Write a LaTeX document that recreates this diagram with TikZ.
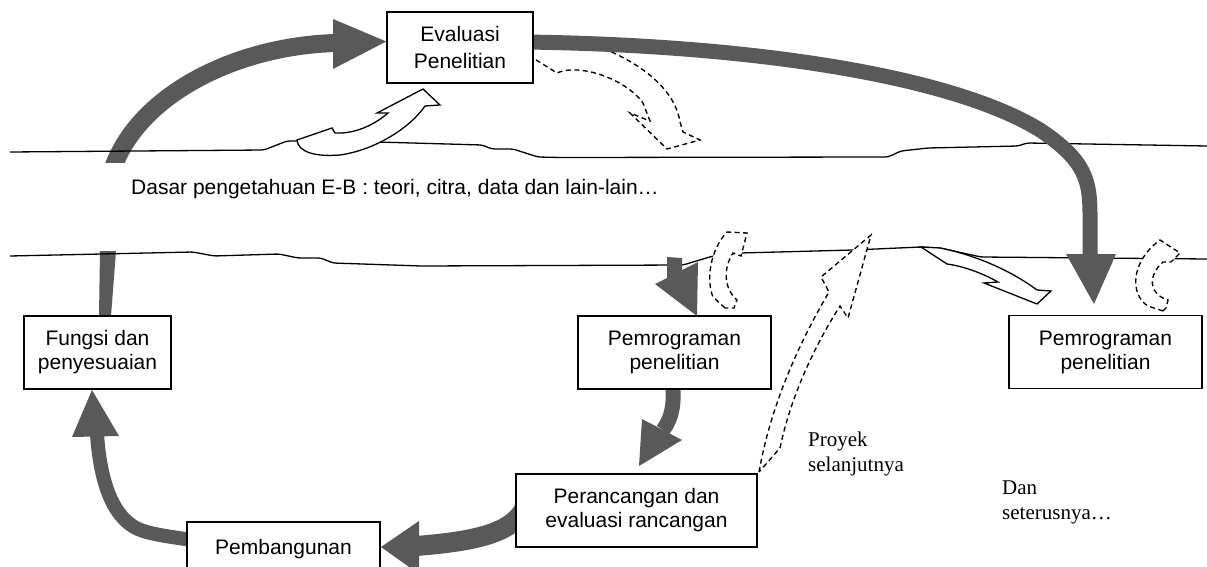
\documentclass[tikz,border=0pt]{standalone}
\usepackage{fontspec}
\setmainfont{Liberation Sans}
\newfontfamily\serifface{Liberation Serif}
\definecolor{agray}{RGB}{89,89,89}
\pgfdeclarelayer{lzero}
\pgfdeclarelayer{lone}
\pgfdeclarelayer{ltwo}
\pgfdeclarelayer{lthree}
\pgfsetlayers{lzero,lone,ltwo,lthree,main}
\begin{document}
\begin{tikzpicture}[x=1pt,y=-1pt,
  box/.style={draw, line width=1.5pt, fill=white, inner sep=0pt, align=center, font=\fontsize{21}{24}\selectfont},
  gshaft/.style={draw=agray, line cap=butt},
  ghead/.style={fill=agray},
  ground/.style={draw, line width=1.3pt, line join=round, rounded corners=3pt},
  dashshape/.style={draw, fill=white, line width=1.35pt, dash pattern=on 5pt off 3.5pt},
  hollow/.style={draw, fill=white, line width=1.3pt, line join=miter},
  lbl/.style={inner sep=0pt, anchor=west, align=left}]
\useasboundingbox (0,0) rectangle (1207,567);
\clip (0,0) rectangle (1207,567);

% boxes
\node[box, minimum width=146pt, minimum height=71pt, font=\fontsize{21}{27}\selectfont] (eval) at (460,47.5) {Evaluasi\\Penelitian};
\node[box, minimum width=147pt, minimum height=73pt] (fungsi) at (97.5,352.5) {Fungsi dan\\penyesuaian};
\node[box, minimum width=193pt, minimum height=73pt] (pemA) at (674.5,352.5) {Pemrograman\\penelitian};
\node[box, minimum width=193pt, minimum height=73pt] (pemB) at (1105.5,352) {Pemrograman\\penelitian};
\node[box, minimum width=241pt, minimum height=73pt] (peran) at (636.5,510.5) {Perancangan dan\\evaluasi rancangan};
\node[box, minimum width=193pt, minimum height=73pt] (pemb) at (283.5,558.5) {Pembangunan\\\mbox{}};

% labels
\node[lbl, font=\fontsize{21}{25}\selectfont] (kb) at (131,189) {Dasar pengetahuan E-B : teori, citra, data dan lain-lain…};
\node[lbl, font=\serifface\fontsize{21}{25}\selectfont] (proyek) at (808,454) {Proyek\\selanjutnya};
\node[lbl, font=\serifface\fontsize{21}{25}\selectfont] (dst) at (1002,502) {Dan\\seterusnya…};

% layer 0: grey arrows under the ground lines
\begin{pgfonlayer}{lzero}
  \begin{scope}
    \clip (0,0) rectangle (1207,162);
    \draw[gshaft, line width=18pt] (110,178) .. controls (130,100) and (230,46) .. (336,43);
  \end{scope}
  \fill[ghead] (333,19) -- ([yshift=6pt]eval.west) -- (333,69) -- cycle;
  \fill[ghead] (100,251) -- (116,251) -- (111,316) -- (99,316) -- cycle;
\end{pgfonlayer}

% layer 1: ground lines
\begin{pgfonlayer}{lone}
  \draw[ground] (10,152) -- (264,150) -- (287,141) -- (298,141) -- (377,142) -- (482,145) -- (492,149) -- (513,149) -- (538,157) -- (560,157.5) -- (888,157) -- (901,151) -- (928,148) -- (1018,146) -- (1027,143) -- (1207,146);
  \draw[ground] (10,256) -- (193,252) -- (214,256) -- (279,254) -- (298,258) -- (321,258) -- (333,263) -- (421,266) -- (683,265) -- (713,256) -- (740,253) -- (853,250) -- (921,247) -- (940,248) -- (981,257) -- (1207,259);
\end{pgfonlayer}

% layer 2: dashed arrow behind the big grey arc
\begin{pgfonlayer}{ltwo}
  \draw[dashshape] (525,44) -- (525,58) -- (533,58) -- (557,73) .. controls (578,63) and (625,78) .. (643,103) -- (650,121) -- (630,113) -- (667,149) -- (700,140) -- (683,132) -- (680,122) .. controls (676,95) and (650,65) .. (592,44) -- cycle;
\end{pgfonlayer}

% layer 3: grey arrows, hollow and dashed arrows
\begin{pgfonlayer}{lthree}
  \draw[gshaft, line width=15pt] (eval.center) ++(65,-5.5) .. controls (750,45) and (950,75) .. (1040,130) .. controls (1085,160) and (1090,180) .. (1090,215) -- (1090,256);
  \fill[ghead] (1066,254) -- (1116,254) -- (1094,304) -- cycle;
  \fill[ghead] (667,257) -- (682,258) -- (682,270) -- (698,262) -- (697,316) -- (655,284) -- (667,278) -- cycle;
  \draw[gshaft, line width=15pt] (673,385) .. controls (674,405) and (672,418) .. (663,430);
  \fill[ghead] (682,440) -- (639,466) -- (642,419) -- cycle;
  \draw[gshaft, line width=20pt] (525,508) .. controls (512,532) and (480,541) .. (416,546);
  \fill[ghead] (419,521) -- (381,547) -- (419,574) -- cycle;
  \draw[gshaft, line width=14pt] (192,540) .. controls (165,536) and (150,534) .. (138,529) .. controls (112,517) and (100,480) .. (97,434);
  \fill[ghead] (72,437) -- (92,390) -- (119,436) -- cycle;

  \draw[hollow] (297,140) -- (332,128) -- (335,133) .. controls (352,134) and (372,127) .. (388,113) -- (377,113) -- (423,89) -- (440,105) -- (425,106) .. controls (410,128) and (375,150) .. (340,155) .. controls (315,157) and (298,152) .. cycle;
  \draw[hollow] (921,247) -- (940,248) .. controls (975,255) and (1010,270) .. (1037,290) -- (1051,291) -- (1037,304) -- (984,283) -- (998,282) .. controls (980,272) and (962,266) .. (947,264) -- cycle;

  \draw[dashshape] (725,308) -- (713,297) .. controls (706,280) and (710,250) .. (727,232) -- (747,233) -- (741,256) -- (733,253) .. controls (722,270) and (725,290) .. (737,300) -- (734,308) -- cycle;
  \draw[dashshape] (1163,311) -- (1148,306) .. controls (1130,295) and (1130,262) .. (1160,240) -- (1180,253) -- (1171,262) -- (1163,262) .. controls (1148,275) and (1148,294) .. (1168,300) -- (1166,308) -- cycle;
  \draw[dashshape] (759,472) .. controls (770,410) and (795,350) .. (829,292) -- (821,277) -- (871,235) -- (848,318) -- (840,306) .. controls (812,350) and (790,400) .. (780,448) -- cycle;
\end{pgfonlayer}
\end{tikzpicture}
\end{document}
